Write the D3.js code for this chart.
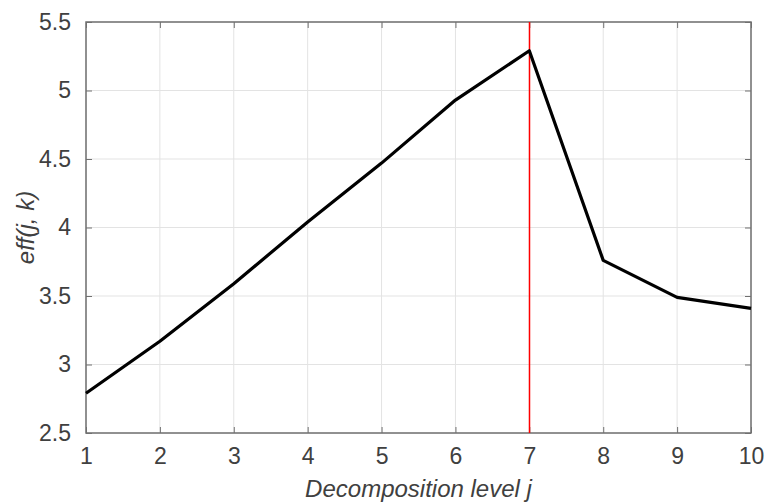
<!DOCTYPE html>
<html>
<head>
<meta charset="utf-8">
<script src="https://cdn.jsdelivr.net/npm/d3@7"></script>
<style>
  html, body { margin: 0; padding: 0; background: #fff; }
  svg { display: block; }
</style>
</head>
<body>
<svg id="chart"></svg>
<script>
// Data
const levels = [1, 2, 3, 4, 5, 6, 7, 8, 9, 10];
const effValues = [2.79, 3.17, 3.59, 4.04, 4.47, 4.93, 5.29, 3.76, 3.49, 3.41];
const xTicks = [1, 2, 3, 4, 5, 6, 7, 8, 9, 10];
const yTicks = [2.5, 3, 3.5, 4, 4.5, 5, 5.5];
const markerLevel = [7];

const W = 766, H = 503;
const margin = { top: 22, right: 15, bottom: 70, left: 86 };
const width = W - margin.left - margin.right;
const height = H - margin.top - margin.bottom;

const axisColor = '#707070';
const textColor = '#404040';
const fontFamily = '"Liberation Sans", Arial, Helvetica, sans-serif';

const svg = d3.select('#chart').attr('width', W).attr('height', H);
const g = svg.append('g').attr('transform', `translate(${margin.left},${margin.top})`);

const x = d3.scaleLinear().domain([1, 10]).range([0, width]);
const y = d3.scaleLinear().domain([2.5, 5.5]).range([height, 0]);

// Grid
g.append('g')
  .selectAll('line')
  .data(xTicks)
  .join('line')
  .attr('x1', d => x(d)).attr('x2', d => x(d))
  .attr('y1', 0).attr('y2', height)
  .attr('stroke', '#e3e3e3').attr('stroke-width', 1);

g.append('g')
  .selectAll('line')
  .data(yTicks)
  .join('line')
  .attr('x1', 0).attr('x2', width)
  .attr('y1', d => y(d)).attr('y2', d => y(d))
  .attr('stroke', '#e3e3e3').attr('stroke-width', 1);

// Axes (MATLAB style: inward ticks, box on)
const tickLen = 6;
const styleAxis = ax => {
  ax.select('.domain').remove();
  ax.selectAll('line').attr('stroke', axisColor);
  ax.selectAll('text').attr('fill', textColor)
    .attr('font-size', 23).attr('font-family', fontFamily);
};

g.append('g')
  .attr('transform', `translate(0,${height})`)
  .call(d3.axisBottom(x).tickValues(xTicks).tickFormat(d3.format('d'))
    .tickSizeInner(-tickLen).tickSizeOuter(0).tickPadding(15))
  .call(styleAxis);

g.append('g')
  .call(d3.axisTop(x).tickValues(xTicks).tickFormat('')
    .tickSizeInner(-tickLen).tickSizeOuter(0))
  .call(styleAxis);

g.append('g')
  .call(d3.axisLeft(y).tickValues(yTicks).tickFormat(d => d)
    .tickSizeInner(-tickLen).tickSizeOuter(0).tickPadding(15))
  .call(styleAxis);

g.append('g')
  .attr('transform', `translate(${width},0)`)
  .call(d3.axisRight(y).tickValues(yTicks).tickFormat('')
    .tickSizeInner(-tickLen).tickSizeOuter(0))
  .call(styleAxis);

// Box
g.append('rect')
  .attr('x', 0).attr('y', 0).attr('width', width).attr('height', height)
  .attr('fill', 'none').attr('stroke', axisColor).attr('stroke-width', 1.5);

// Red marker line
g.selectAll('.marker')
  .data(markerLevel)
  .join('line')
  .attr('class', 'marker')
  .attr('x1', d => Math.round(x(d)) + 0.5).attr('x2', d => Math.round(x(d)) + 0.5)
  .attr('y1', 0).attr('y2', height)
  .attr('stroke', '#ff0000').attr('stroke-width', 1.5);

// Data line
const pts = levels.map((l, i) => [l, effValues[i]]);
g.append('path')
  .datum(pts)
  .attr('d', d3.line().x(d => x(d[0])).y(d => y(d[1])))
  .attr('fill', 'none').attr('stroke', '#000')
  .attr('stroke-width', 3.2).attr('stroke-linejoin', 'round');

// Axis labels
g.append('text')
  .attr('x', width / 2).attr('y', height + 64)
  .attr('text-anchor', 'middle')
  .attr('font-style', 'italic').attr('font-size', 24)
  .attr('font-family', fontFamily).attr('fill', textColor)
  .text('Decomposition level j');

g.append('text')
  .attr('transform', 'rotate(-90)')
  .attr('x', -height / 2).attr('y', -52)
  .attr('text-anchor', 'middle')
  .attr('font-style', 'italic').attr('font-size', 24)
  .attr('font-family', fontFamily).attr('fill', textColor)
  .text('eff(j, k)');
</script>
</body>
</html>
